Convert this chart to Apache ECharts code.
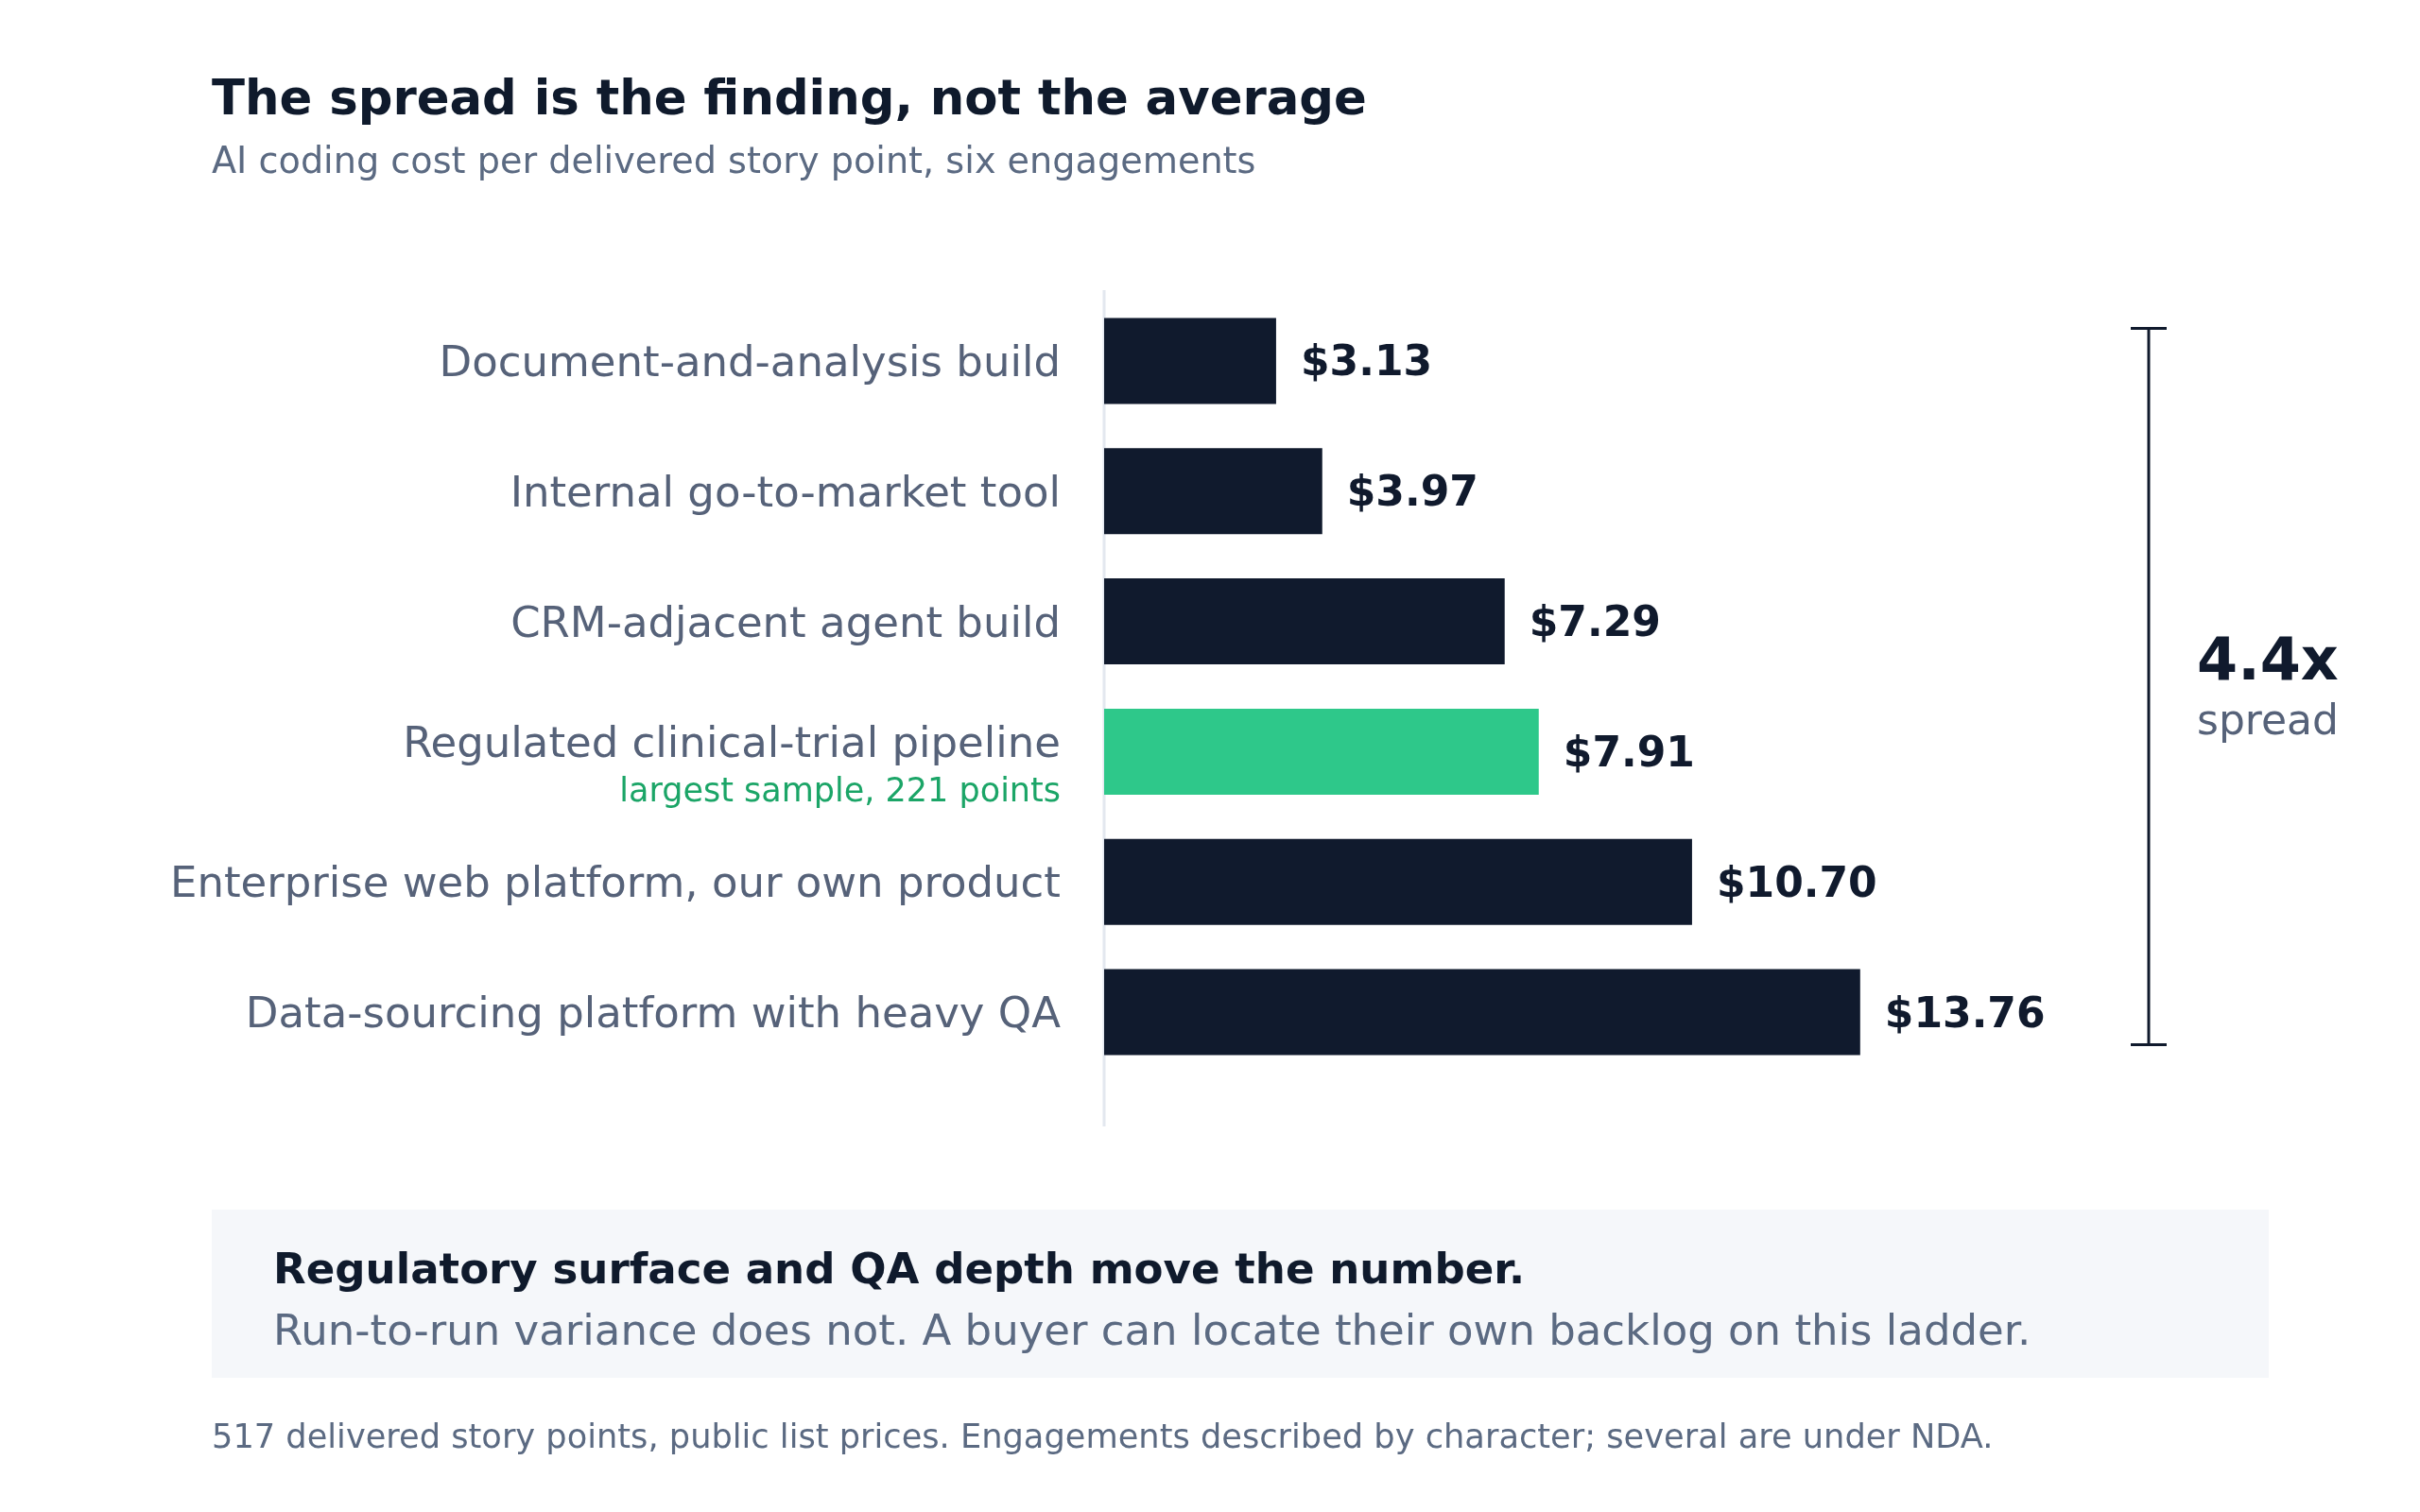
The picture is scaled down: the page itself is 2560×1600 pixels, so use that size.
<!DOCTYPE html>
<html>
<head>
<meta charset="utf-8">
<title>AI coding cost per delivered story point</title>
<script src="https://cdn.jsdelivr.net/npm/echarts@6/dist/echarts.min.js"></script>
<style>
  html, body { margin: 0; padding: 0; background: #ffffff; }
  #chart { width: 2560px; height: 1600px; }
</style>
</head>
<body>
<div id="chart"></div>
<script>
// engagements, top to bottom
var categories = [
    'Document-and-analysis build',
    'Internal go-to-market tool',
    'CRM-adjacent agent build',
    'Regulated clinical-trial pipeline',
    'Enterprise web platform, our own product',
    'Data-sourcing platform with heavy QA'
];
// cost per delivered story point, USD
var costs = [3.13, 3.97, 7.29, 7.91, 10.70, 13.76];
var highlightIndex = 3;
var highlightNote = 'largest sample, 221 points';

var titleText = 'The spread is the finding, not the average';
var subtitleText = 'AI coding cost per delivered story point, six engagements';
var calloutHead = 'Regulatory surface and QA depth move the number.';
var calloutBody = 'Run-to-run variance does not. A buyer can locate their own backlog on this ladder.';
var footnote = '517 delivered story points, public list prices. Engagements described by character; several are under NDA.';

var FONT = 'DejaVu Sans';
var DARK = '#101a2d';
var GRAY = '#566279';
var GREEN = '#2ec88a';
var GREEN_TEXT = '#1ba567';

var myChart = echarts.init(document.getElementById('chart'));

var barData = costs.map(function (v, i) {
    return {
        value: v,
        itemStyle: { color: i === highlightIndex ? GREEN : DARK }
    };
});

var option = {
    backgroundColor: '#ffffff',
    animation: false,
    grid: { left: 1168, top: 313, width: 930, height: 827 },
    xAxis: {
        type: 'value',
        min: 0,
        max: 16,
        show: false
    },
    yAxis: {
        type: 'category',
        inverse: true,
        data: categories,
        axisLine: { show: false },
        axisTick: { show: false },
        splitLine: { show: false },
        axisLabel: {
            margin: 46,
            padding: [9, 0, 0, 0],
            fontFamily: FONT,
            fontSize: 45,
            color: GRAY,
            formatter: function (value, index) {
                if (index === highlightIndex) {
                    return '{a|' + value + '}\n{b|' + highlightNote + '}';
                }
                return value;
            },
            rich: {
                a: { fontFamily: FONT, fontSize: 45, color: GRAY, lineHeight: 78, align: 'right' },
                b: { fontFamily: FONT, fontSize: 35, color: GREEN_TEXT, lineHeight: 22, align: 'right' }
            }
        }
    },
    series: [{
        type: 'bar',
        data: barData,
        barWidth: '66%',
        label: {
            show: true,
            position: 'right',
            distance: 26,
            offset: [0, 4],
            fontFamily: FONT,
            fontSize: 44,
            fontWeight: 'bold',
            color: DARK,
            formatter: function (p) { return '$' + p.value.toFixed(2); }
        }
    }]
};

myChart.setOption(option);

// overlay: axis rule, spread bracket, headings, callout box
var x0 = myChart.convertToPixel({ gridIndex: 0 }, [0, 0])[0];
var yFirst = myChart.convertToPixel({ yAxisIndex: 0 }, 0);
var yLast = myChart.convertToPixel({ yAxisIndex: 0 }, categories.length - 1);
var band = (yLast - yFirst) / (categories.length - 1);
var bTop = yFirst - band * 0.25;
var bBot = yLast + band * 0.25;
var bX = 2273;
var bMid = (bTop + bBot) / 2;
var spread = (Math.max.apply(null, costs) / Math.min.apply(null, costs)).toFixed(1) + 'x';

myChart.setOption({
    graphic: [
        { type: 'line', shape: { x1: x0, y1: 307, x2: x0, y2: 1192 }, style: { stroke: '#e3e8ef', lineWidth: 3 }, z: 0 },
        { type: 'line', shape: { x1: bX, y1: bTop, x2: bX, y2: bBot }, style: { stroke: DARK, lineWidth: 3 } },
        { type: 'line', shape: { x1: bX - 19, y1: bTop, x2: bX + 19, y2: bTop }, style: { stroke: DARK, lineWidth: 3 } },
        { type: 'line', shape: { x1: bX - 19, y1: bBot, x2: bX + 19, y2: bBot }, style: { stroke: DARK, lineWidth: 3 } },
        { type: 'text', x: 2324, y: bMid - 24, style: { text: spread, fontFamily: FONT, fontSize: 62, fontWeight: 'bold', fill: DARK, textVerticalAlign: 'middle' } },
        { type: 'text', x: 2324, y: bMid + 39, style: { text: 'spread', fontFamily: FONT, fontSize: 44, fill: GRAY, textVerticalAlign: 'middle' } },

        { type: 'text', x: 224, y: 108, style: { text: titleText, fontFamily: FONT, fontSize: 51.3, fontWeight: 'bold', fill: '#0f1a2c', textVerticalAlign: 'middle' } },
        { type: 'text', x: 224, y: 173, style: { text: subtitleText, fontFamily: FONT, fontSize: 38.2, fill: '#5b6a82', textVerticalAlign: 'middle' } },

        { type: 'rect', shape: { x: 224, y: 1280, width: 2176, height: 178 }, style: { fill: '#f5f7fa' }, z: 0 },
        { type: 'text', x: 289, y: 1346, style: { text: calloutHead, fontFamily: FONT, fontSize: 45.1, fontWeight: 'bold', fill: '#0f1a2c', textVerticalAlign: 'middle' } },
        { type: 'text', x: 289, y: 1411, style: { text: calloutBody, fontFamily: FONT, fontSize: 45, fill: '#5b6a82', textVerticalAlign: 'middle' } },

        { type: 'text', x: 224, y: 1523, style: { text: footnote, fontFamily: FONT, fontSize: 35.2, fill: '#5b6a82', textVerticalAlign: 'middle' } }
    ]
});
</script>
</body>
</html>
